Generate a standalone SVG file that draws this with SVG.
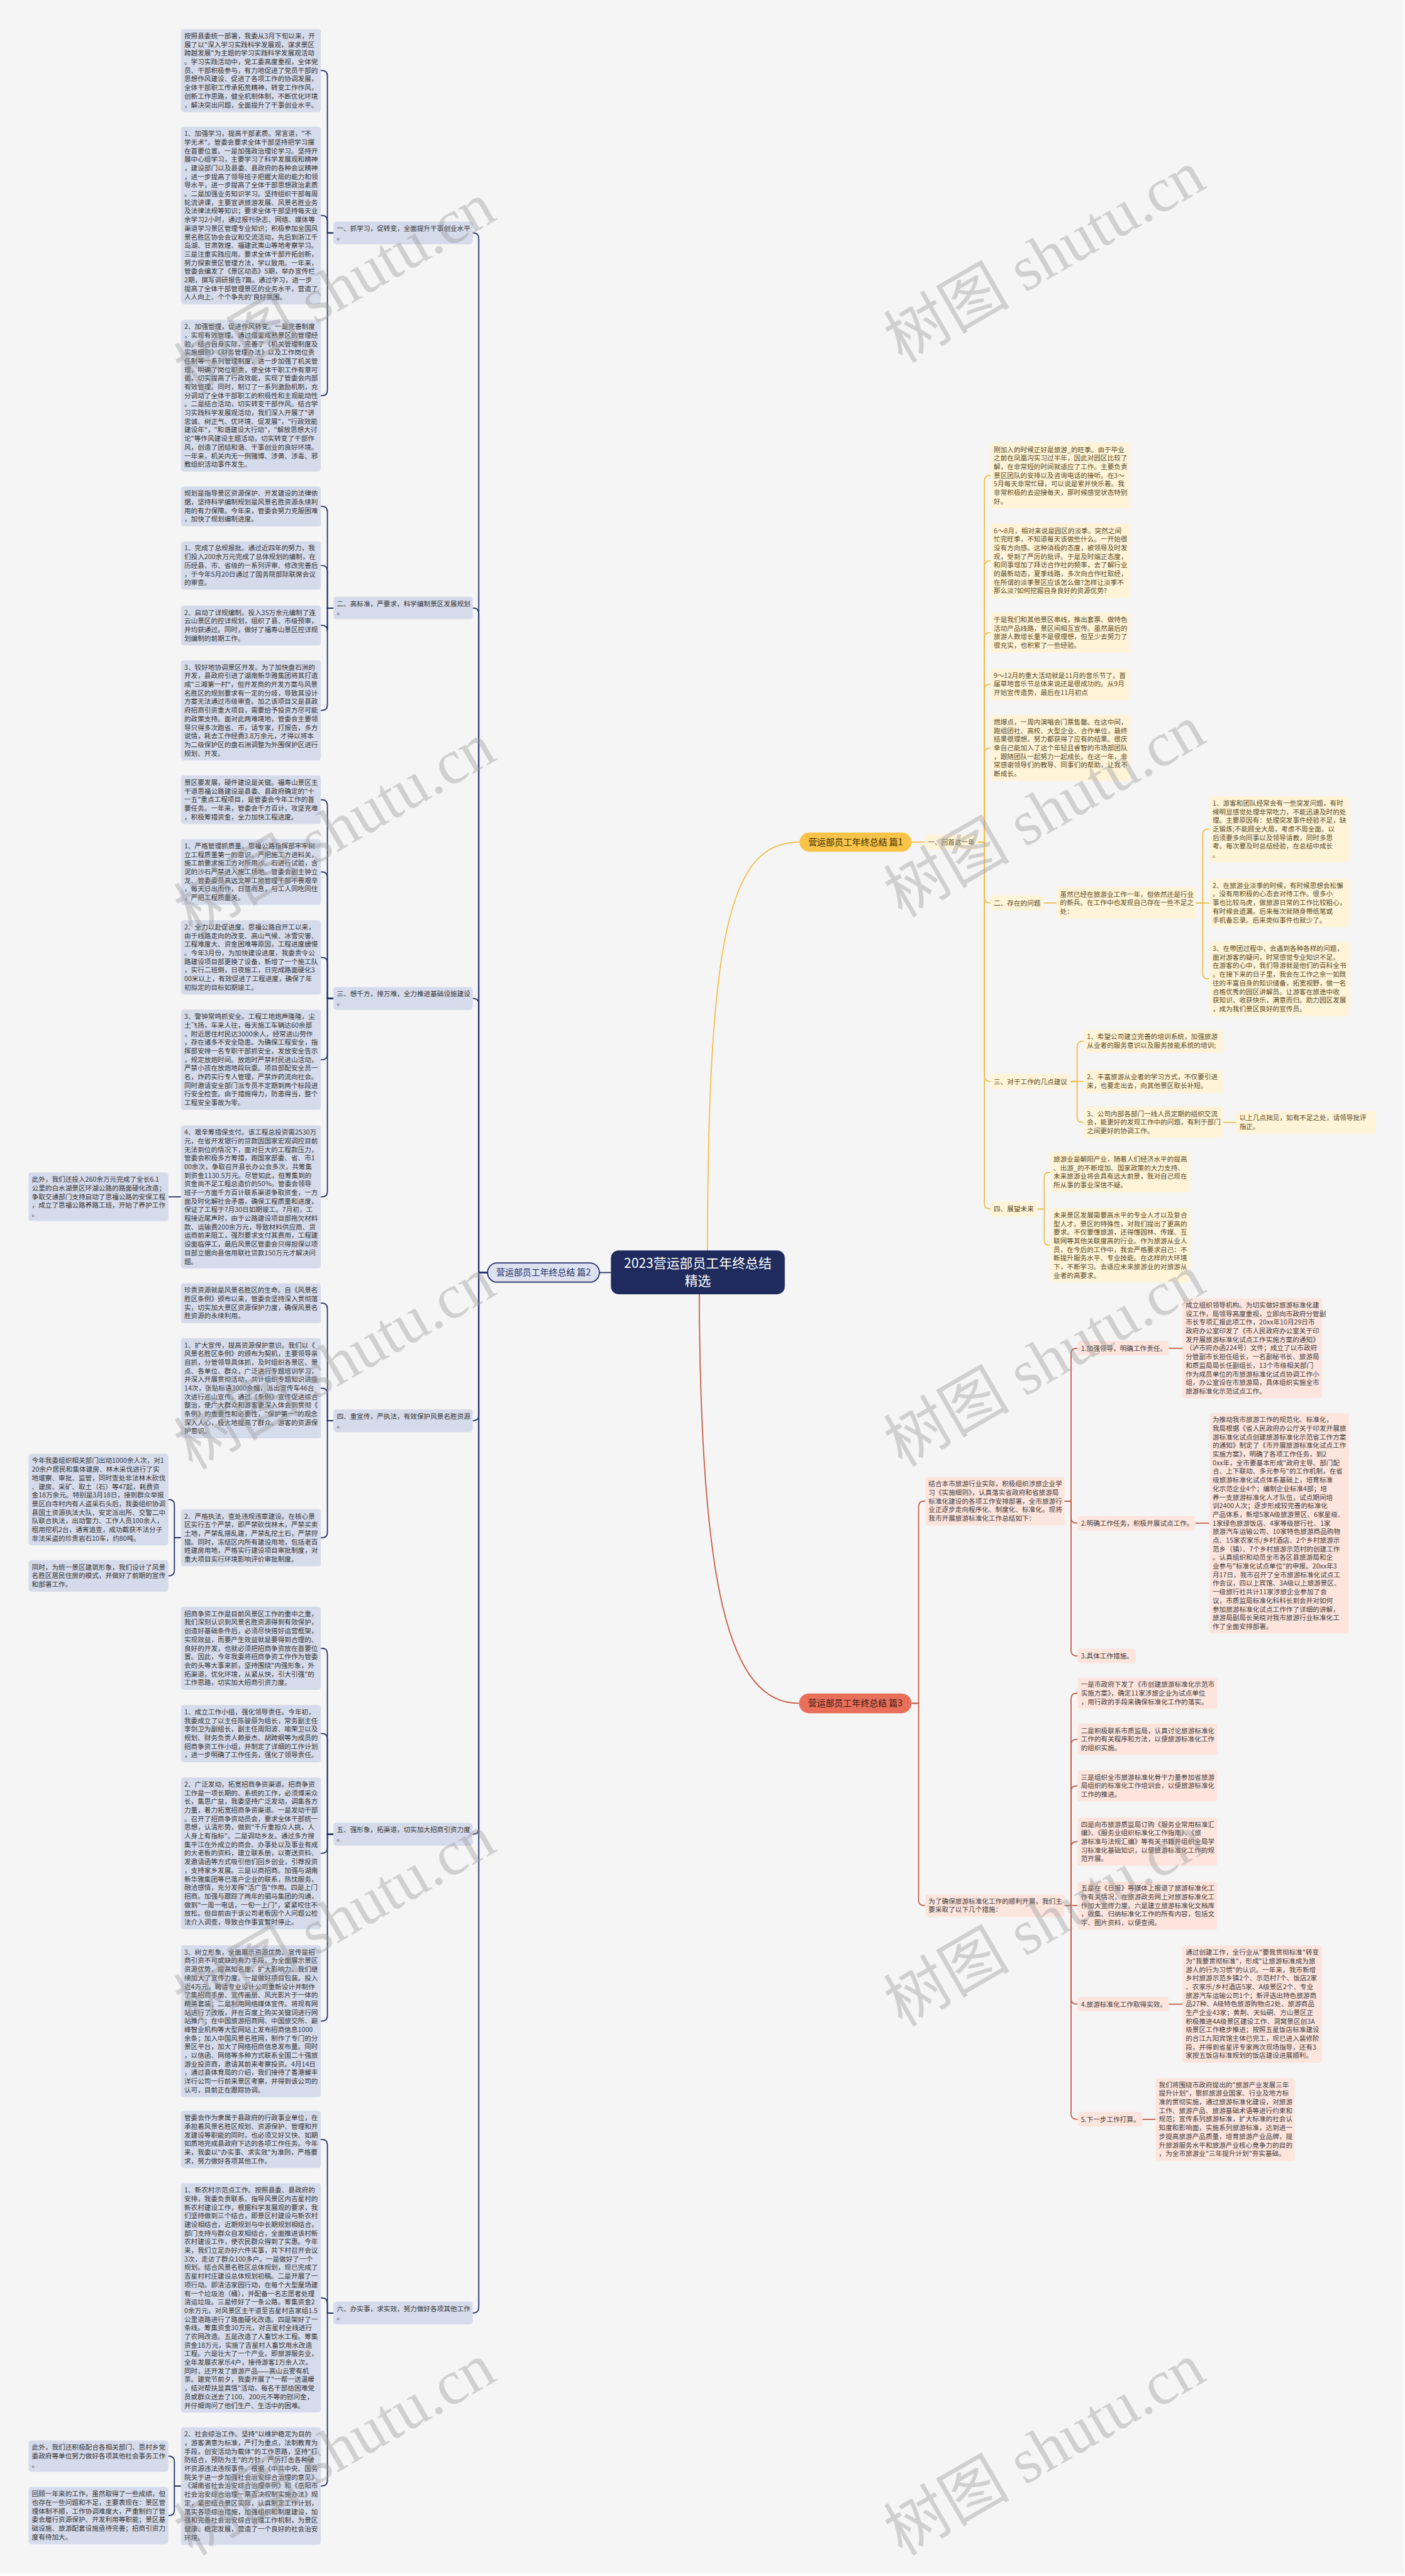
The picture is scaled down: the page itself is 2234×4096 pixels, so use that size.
<svg xmlns="http://www.w3.org/2000/svg" width="2234" height="4096" viewBox="0 0 2234 4096">
<defs>
<style>
.t{font-family:"Noto Sans CJK SC","Noto Sans",sans-serif;font-size:12.2px;fill:#333}
.ty{fill:#5a4a26}
.tr{fill:#3f3a38}
.bn{fill:#D6DBEB}
.by{fill:#FFF4D8}
.br{fill:#FDE5DE}
.cn{fill:none;stroke:#1C2E66;stroke-width:2}
.cy{fill:none;stroke:#F2BD45;stroke-width:2}
.cr{fill:none;stroke:#C7593F;stroke-width:2}
.nt{font-family:"Noto Sans CJK SC","Noto Sans",sans-serif;font-size:16px;text-anchor:middle}
.wm{font-family:"Liberation Serif","Noto Sans CJK SC",serif;font-size:115px;fill:#9a9a9a;opacity:.4}
</style>
</defs>
<g transform="scale(0.872)">
<rect x="0" y="0" width="2560" height="4693" fill="#F5F5F5"/>

<g id="connectors">
<path class="cy" d="M1290 2300C1290 1700 1330 1535.5 1458 1535.5"/>
<path class="cr" d="M1275 2330C1275 2900 1330 3106 1457 3106"/>
<path class="cn" d="M1114 2320.5H1093"/>
<path class="cn" d="M889 2320.5H873V434.7Q873 424.7 863 424.7H862"/>
<path class="cn" d="M889 2320.5H873V1118.7Q873 1108.7 863 1108.7H862"/>
<path class="cn" d="M889 2320.5H873V1830.7Q873 1820.7 863 1820.7H862"/>
<path class="cn" d="M889 2320.5H873V2580.7Q873 2590.7 863 2590.7H862"/>
<path class="cn" d="M889 2320.5H873V3334.7Q873 3344.7 863 3344.7H862"/>
<path class="cn" d="M889 2320.5H873V4207.7Q873 4217.7 863 4217.7H862"/>
<path class="cn" d="M608 424.7H597V138.65Q597 128.65 587 128.65H585"/>
<path class="cn" d="M608 424.7H597V403Q597 393 587 393H585"/>
<path class="cn" d="M608 424.7H597V711.45Q597 721.45 587 721.45H585"/>
<path class="cn" d="M608 1108.7H597V933.4Q597 923.4 587 923.4H585"/>
<path class="cn" d="M608 1108.7H597V1041.25Q597 1031.25 587 1031.25H585"/>
<path class="cn" d="M608 1108.7H597V1150.4Q597 1140.4 587 1140.4H585"/>
<path class="cn" d="M608 1108.7H597V1285.35Q597 1295.35 587 1295.35H585"/>
<path class="cn" d="M608 1820.7H597V1468.25Q597 1458.25 587 1458.25H585"/>
<path class="cn" d="M608 1820.7H597V1599.95Q597 1589.95 587 1589.95H585"/>
<path class="cn" d="M608 1820.7H597V1755.8Q597 1745.8 587 1745.8H585"/>
<path class="cn" d="M608 1820.7H597V1922.35Q597 1932.35 587 1932.35H585"/>
<path class="cn" d="M608 1820.7H597V2172.6Q597 2182.6 587 2182.6H585"/>
<path class="cn" d="M330 2182.4H307"/>
<path class="cn" d="M608 2590.7H597V2386.4Q597 2376.4 587 2376.4H585"/>
<path class="cn" d="M608 2590.7H597V2541.35Q597 2531.35 587 2531.35H585"/>
<path class="cn" d="M608 2590.7H597V2794.1Q597 2804.1 587 2804.1H585"/>
<path class="cn" d="M330 2804.1H318V2744.5Q318 2734.5 308 2734.5H307"/>
<path class="cn" d="M330 2804.1H318V2863.55Q318 2873.55 308 2873.55H307"/>
<path class="cn" d="M608 3344.7H597V3015.65Q597 3005.65 587 3005.65H585"/>
<path class="cn" d="M608 3344.7H597V3171.1Q597 3161.1 587 3161.1H585"/>
<path class="cn" d="M608 3344.7H597V3369.45Q597 3379.45 587 3379.45H585"/>
<path class="cn" d="M608 3344.7H597V3675.45Q597 3685.45 587 3685.45H585"/>
<path class="cn" d="M608 4217.7H597V3911.1Q597 3901.1 587 3901.1H585"/>
<path class="cn" d="M608 4217.7H597V4200.1Q597 4190.1 587 4190.1H585"/>
<path class="cn" d="M608 4217.7H597V4523.05Q597 4533.05 587 4533.05H585"/>
<path class="cn" d="M330 4533.05H318V4488.55Q318 4478.55 308 4478.55H307"/>
<path class="cn" d="M330 4533.05H318V4577.1Q318 4587.1 308 4587.1H307"/>

<path class="cy" d="M1662 1535.5H1686"/>
<path class="cy" d="M1783 1535.5H1795V876.95Q1795 866.95 1805 866.95H1806"/>
<path class="cy" d="M1783 1535.5H1795V1032.8Q1795 1022.8 1805 1022.8H1806"/>
<path class="cy" d="M1783 1535.5H1795V1163.4Q1795 1153.4 1805 1153.4H1806"/>
<path class="cy" d="M1783 1535.5H1795V1257.55Q1795 1247.55 1805 1247.55H1806"/>
<path class="cy" d="M1783 1535.5H1795V1373.95Q1795 1363.95 1805 1363.95H1806"/>
<path class="cy" d="M1783 1535.5H1795V1636.5Q1795 1646.5 1805 1646.5H1806"/>
<path class="cy" d="M1783 1535.5H1795V1962Q1795 1972 1805 1972H1806"/>
<path class="cy" d="M1783 1535.5H1795V2194.5Q1795 2204.5 1805 2204.5H1806"/>
<path class="cy" d="M1903 1646.5H1927"/>
<path class="cy" d="M2181 1646.55H2193V1521.95Q2193 1511.95 2203 1511.95H2205"/>
<path class="cy" d="M2181 1646.55H2205"/>
<path class="cy" d="M2181 1646.55H2193V1774.8Q2193 1784.8 2203 1784.8H2205"/>
<path class="cy" d="M1952 1972H1964V1908.7Q1964 1898.7 1974 1898.7H1976"/>
<path class="cy" d="M1952 1972H1976"/>
<path class="cy" d="M1952 1972H1964V2036.55Q1964 2046.55 1974 2046.55H1976"/>
<path class="cy" d="M2230 2046.55H2254"/>
<path class="cy" d="M1892 2204.5H1904V2147.4Q1904 2137.4 1914 2137.4H1915"/>
<path class="cy" d="M1892 2204.5H1904V2260.8Q1904 2270.8 1914 2270.8H1915"/>

<path class="cr" d="M1662 3106H1675V2747.25Q1675 2737.25 1685 2737.25H1687"/>
<path class="cr" d="M1662 3106H1675V3464.7Q1675 3474.7 1685 3474.7H1687"/>
<path class="cr" d="M1941 2737.25H1953V2468.5Q1953 2458.5 1963 2458.5H1965"/>
<path class="cr" d="M1941 2737.25H1953V2767.5Q1953 2777.5 1963 2777.5H1965"/>
<path class="cr" d="M1941 2737.25H1953V3009.5Q1953 3019.5 1963 3019.5H1965"/>
<path class="cr" d="M2131 2458.5H2156"/>
<path class="cr" d="M2180 2777.5H2205"/>
<path class="cr" d="M1941 3474.7H1953V3097.55Q1953 3087.55 1963 3087.55H1965"/>
<path class="cr" d="M1941 3474.7H1953V3181.55Q1953 3171.55 1963 3171.55H1965"/>
<path class="cr" d="M1941 3474.7H1953V3266.55Q1953 3256.55 1963 3256.55H1965"/>
<path class="cr" d="M1941 3474.7H1953V3368.25Q1953 3358.25 1963 3358.25H1965"/>
<path class="cr" d="M1941 3474.7H1965"/>
<path class="cr" d="M1941 3474.7H1953V3644.5Q1953 3654.5 1963 3654.5H1965"/>
<path class="cr" d="M1941 3474.7H1953V3854.5Q1953 3864.5 1963 3864.5H1965"/>
<path class="cr" d="M2131 3654.5H2156"/>
<path class="cr" d="M2083 3864.5H2107"/>
</g>

<g id="center"><rect x="1114" y="2280" width="317" height="80" rx="14" fill="#1E2B5C"/><text x="1272.5" y="2312.4" font-family="Noto Sans CJK SC, sans-serif" font-size="24" fill="#fff" text-anchor="middle">2023营运部员工年终总结</text><text x="1272.5" y="2344.4" font-family="Noto Sans CJK SC, sans-serif" font-size="24" fill="#fff" text-anchor="middle">精选</text></g>

<g id="p1"><rect x="1458" y="1518" width="204" height="35" rx="17.5" fill="#F8C347"/><text class="nt" x="1560" y="1541.1" fill="#3a2c08">营运部员工年终总结 篇1</text></g>
<g id="p2"><rect x="889" y="2303" width="204" height="35" rx="17.5" fill="#DDE1EF" stroke="#1C2E66" stroke-width="2"/><text class="nt" x="991" y="2326.1" fill="#1C2E66">营运部员工年终总结 篇2</text></g>
<g id="p3"><rect x="1457" y="3088" width="205" height="36" rx="18" fill="#E8705A"/><text class="nt" x="1559.5" y="3111.6" fill="#3b1a12">营运部员工年终总结 篇3</text></g>

<g id="L1"><rect class="bn" x="608" y="404" width="254" height="41.4" rx="5"/><text class="t" x="614" y="421"><tspan x="614">一、抓学习，促转变，全面提升干事创业水平</tspan><tspan x="614" dy="15.7">。</tspan></text></g>
<g id="L2"><rect class="bn" x="608" y="1088" width="254" height="41.4" rx="5"/><text class="t" x="614" y="1105"><tspan x="614">二、高标准，严要求，科学编制景区发展规划</tspan><tspan x="614" dy="15.7">。</tspan></text></g>
<g id="L3"><rect class="bn" x="608" y="1800" width="254" height="41.4" rx="5"/><text class="t" x="614" y="1817"><tspan x="614">三、想千方，排万难，全力推进基础设施建设</tspan><tspan x="614" dy="15.7">。</tspan></text></g>
<g id="L4"><rect class="bn" x="608" y="2570" width="254" height="41.4" rx="5"/><text class="t" x="614" y="2587"><tspan x="614">四、重宣传，严执法，有效保护风景名胜资源</tspan><tspan x="614" dy="15.7">。</tspan></text></g>
<g id="L5"><rect class="bn" x="608" y="3324" width="254" height="41.4" rx="5"/><text class="t" x="614" y="3341"><tspan x="614">五、强形象，拓渠道，切实加大招商引资力度</tspan><tspan x="614" dy="15.7">。</tspan></text></g>
<g id="L6"><rect class="bn" x="608" y="4197" width="254" height="41.4" rx="5"/><text class="t" x="614" y="4214"><tspan x="614">六、办实事，求实效，努力做好各项其他工作</tspan><tspan x="614" dy="15.7">。</tspan></text></g>

<g id="A1"><rect class="bn" x="330" y="53" width="255" height="151.3" rx="5"/><text class="t" x="336" y="70"><tspan x="336">按照县委统一部署，我委从3月下旬以来，开</tspan><tspan x="336" dy="15.7">展了以"深入学习实践科学发展观，谋求景区</tspan><tspan x="336" dy="15.7">跨越发展"为主题的学习实践科学发展观活动</tspan><tspan x="336" dy="15.7">。学习实践活动中，党工委高度重视，全体党</tspan><tspan x="336" dy="15.7">员、干部积极参与，有力地促进了党员干部的</tspan><tspan x="336" dy="15.7">思想作风建设、促进了各项工作的协调发展，</tspan><tspan x="336" dy="15.7">全体干部职工传承拓荒精神，转变工作作风，</tspan><tspan x="336" dy="15.7">创新工作思路，健全机制体制，不断优化环境</tspan><tspan x="336" dy="15.7">，解决突出问题，全面提升了干事创业水平。</tspan></text></g>
<g id="A2"><rect class="bn" x="330" y="231" width="255" height="324" rx="5"/><text class="t" x="336" y="248"><tspan x="336">1、加强学习，提高干部素质。常言道，"不</tspan><tspan x="336" dy="15.7">学无术"。管委会要求全体干部坚持把学习摆</tspan><tspan x="336" dy="15.7">在首要位置。一是加强政治理论学习。坚持开</tspan><tspan x="336" dy="15.7">展中心组学习，主要学习了科学发展观和精神</tspan><tspan x="336" dy="15.7">，建设部门以及县委、县政府的各种会议精神</tspan><tspan x="336" dy="15.7">，进一步提高了领导班子把握大局的能力和领</tspan><tspan x="336" dy="15.7">导水平，进一步提高了全体干部思想政治素质</tspan><tspan x="336" dy="15.7">。二是加强业务知识学习。坚持组织干部每周</tspan><tspan x="336" dy="15.7">轮流讲课，主要宣讲旅游发展、风景名胜业务</tspan><tspan x="336" dy="15.7">及法律法规等知识；要求全体干部坚持每天业</tspan><tspan x="336" dy="15.7">余学习2小时，通过报刊杂志、网络、媒体等</tspan><tspan x="336" dy="15.7">渠道学习景区管理专业知识；积极参加全国风</tspan><tspan x="336" dy="15.7">景名胜区协会会议和交流活动，先后到浙江千</tspan><tspan x="336" dy="15.7">岛湖、甘肃敦煌、福建武夷山等地考察学习。</tspan><tspan x="336" dy="15.7">三是注重实践应用。要求全体干部开拓创新，</tspan><tspan x="336" dy="15.7">努力探索景区管理方法，学以致用。一年来，</tspan><tspan x="336" dy="15.7">管委会编发了《景区动态》5期，举办宣传栏</tspan><tspan x="336" dy="15.7">2期，撰写调研报告7篇。通过学习，进一步</tspan><tspan x="336" dy="15.7">提高了全体干部管理景区的业务水平，营造了</tspan><tspan x="336" dy="15.7">人人向上、个个争先的'良好氛围。</tspan></text></g>
<g id="A3"><rect class="bn" x="330" y="583" width="255" height="276.9" rx="5"/><text class="t" x="336" y="600"><tspan x="336">2、加强管理，促进作风转变。一是完善制度</tspan><tspan x="336" dy="15.7">，实现有效管理。通过借鉴成熟景区的管理经</tspan><tspan x="336" dy="15.7">验，结合自身实际，完善了《机关管理制度及</tspan><tspan x="336" dy="15.7">实施细则》《财务管理办法》以及工作岗位责</tspan><tspan x="336" dy="15.7">任制等一系列管理制度，进一步加强了机关管</tspan><tspan x="336" dy="15.7">理，明确了岗位职责，使全体干职工作有章可</tspan><tspan x="336" dy="15.7">循，切实提高了行政效能，实现了管委会内部</tspan><tspan x="336" dy="15.7">有效管理。同时，制订了一系列激励机制，充</tspan><tspan x="336" dy="15.7">分调动了全体干部职工的积极性和主观能动性</tspan><tspan x="336" dy="15.7">。二是结合活动，切实转变干部作风。结合学</tspan><tspan x="336" dy="15.7">习实践科学发展观活动，我们深入开展了"讲</tspan><tspan x="336" dy="15.7">忠诚、树正气、优环境、促发展"，"行政效能</tspan><tspan x="336" dy="15.7">建设年"，"和谐建设大行动"，"解放思想大讨</tspan><tspan x="336" dy="15.7">论"等作风建设主题活动，切实转变了干部作</tspan><tspan x="336" dy="15.7">风，创造了团结和谐、干事创业的良好环境。</tspan><tspan x="336" dy="15.7">一年来，机关内无一例赌博、涉黄、涉毒、邪</tspan><tspan x="336" dy="15.7">教组织活动事件发生。</tspan></text></g>

<g id="B1"><rect class="bn" x="330" y="887" width="255" height="72.8" rx="5"/><text class="t" x="336" y="904"><tspan x="336">规划是指导景区资源保护、开发建设的法律依</tspan><tspan x="336" dy="15.7">据，坚持科学编制规划是风景名胜资源永续利</tspan><tspan x="336" dy="15.7">用的有力保障。今年来，管委会努力克服困难</tspan><tspan x="336" dy="15.7">，加快了规划编制进度。</tspan></text></g>
<g id="B2"><rect class="bn" x="330" y="987" width="255" height="88.5" rx="5"/><text class="t" x="336" y="1004"><tspan x="336">1、完成了总规报批。通过近四年的努力，我</tspan><tspan x="336" dy="15.7">们投入200余万元完成了总体规划的编制，在</tspan><tspan x="336" dy="15.7">历经县、市、省级的一系列评审、修改完善后</tspan><tspan x="336" dy="15.7">，于今年5月20日通过了国务院部际联席会议</tspan><tspan x="336" dy="15.7">的审查。</tspan></text></g>
<g id="B3"><rect class="bn" x="330" y="1104" width="255" height="72.8" rx="5"/><text class="t" x="336" y="1121"><tspan x="336">2、启动了详规编制。投入35万余元编制了连</tspan><tspan x="336" dy="15.7">云山景区的控详规划，组织了县、市级预审，</tspan><tspan x="336" dy="15.7">并均获通过。同时，做好了福寿山景区控详规</tspan><tspan x="336" dy="15.7">划编制的前期工作。</tspan></text></g>
<g id="B4"><rect class="bn" x="330" y="1204" width="255" height="182.7" rx="5"/><text class="t" x="336" y="1221"><tspan x="336">3、较好地协调景区开发。为了加快盘石洲的</tspan><tspan x="336" dy="15.7">开发，县政府引进了湖南新华雅集团将其打造</tspan><tspan x="336" dy="15.7">成"三湘第一村"，但开发商的开发方案与风景</tspan><tspan x="336" dy="15.7">名胜区的规划要求有一定的分歧，导致其设计</tspan><tspan x="336" dy="15.7">方案无法通过市级审查。加之该项目又是县政</tspan><tspan x="336" dy="15.7">府招商引资重大项目，需要给予投资方尽可能</tspan><tspan x="336" dy="15.7">的政策支持。面对此两难境地，管委会主要领</tspan><tspan x="336" dy="15.7">导只得多次跑省、市，请专家，打报告，多方</tspan><tspan x="336" dy="15.7">说情，耗去工作经费3.8万余元，才得以将本</tspan><tspan x="336" dy="15.7">为二级保护区的盘石洲调整为外围保护区进行</tspan><tspan x="336" dy="15.7">规划、开发。</tspan></text></g>

<g id="C1"><rect class="bn" x="330" y="1414" width="255" height="88.5" rx="5"/><text class="t" x="336" y="1431"><tspan x="336">景区要发展，硬件建设是关键。福寿山景区主</tspan><tspan x="336" dy="15.7">干道思福公路建设是县委、县政府确定的"十</tspan><tspan x="336" dy="15.7">一五"重点工程项目，是管委会今年工作的首</tspan><tspan x="336" dy="15.7">要任务。一年来，管委会千方百计，攻坚克难</tspan><tspan x="336" dy="15.7">，积极筹措资金，全力加快工程进度。</tspan></text></g>
<g id="C2"><rect class="bn" x="330" y="1530" width="255" height="119.9" rx="5"/><text class="t" x="336" y="1547"><tspan x="336">1、严格管理抓质量。思福公路指挥部牢牢树</tspan><tspan x="336" dy="15.7">立工程质量第一的意识，严把施工方进料关，</tspan><tspan x="336" dy="15.7">施工前要求施工方对所用沙、石进行试验，含</tspan><tspan x="336" dy="15.7">泥的沙石严禁进入施工场地。管委会副主钟立</tspan><tspan x="336" dy="15.7">龙、管委委员高远文等工地管理干部不畏艰辛</tspan><tspan x="336" dy="15.7">，每天日出而作，日落而息，与工人同吃同住</tspan><tspan x="336" dy="15.7">，严把工程质量关。</tspan></text></g>
<g id="C3"><rect class="bn" x="330" y="1678" width="255" height="135.6" rx="5"/><text class="t" x="336" y="1695"><tspan x="336">2、全力以赴促进度。思福公路自开工以来，</tspan><tspan x="336" dy="15.7">由于线路走向的改变、高山气候、冰雪灾害、</tspan><tspan x="336" dy="15.7">工程难度大、资金困难等原因，工程进度缓慢</tspan><tspan x="336" dy="15.7">。今年3月份，为加快建设进度，我委责令公</tspan><tspan x="336" dy="15.7">路建设项目部更换了设备，新增了一个施工队</tspan><tspan x="336" dy="15.7">，实行二班倒，日夜施工，日完成路面硬化3</tspan><tspan x="336" dy="15.7">00米以上，有效促进了工程进度，确保了年</tspan><tspan x="336" dy="15.7">初拟定的目标如期竣工。</tspan></text></g>
<g id="C4"><rect class="bn" x="330" y="1841" width="255" height="182.7" rx="5"/><text class="t" x="336" y="1858"><tspan x="336">3、警钟常鸣抓安全。工程工地炮声隆隆，尘</tspan><tspan x="336" dy="15.7">土飞扬，车来人往，每天施工车辆达60余部</tspan><tspan x="336" dy="15.7">，附近居住村民达3000余人，经常进山劳作</tspan><tspan x="336" dy="15.7">，存在诸多不安全隐患。为确保工程安全，指</tspan><tspan x="336" dy="15.7">挥部安排一名专职干部抓安全，发放安全告示</tspan><tspan x="336" dy="15.7">，规定放炮时间。放炮时严禁村民进山活动，</tspan><tspan x="336" dy="15.7">严禁小孩在放炮地段玩耍。项目部配安全员一</tspan><tspan x="336" dy="15.7">名，炸药实行专人管理，严禁炸药流向社会。</tspan><tspan x="336" dy="15.7">同时邀请安全部门派专员不定期到两个标段进</tspan><tspan x="336" dy="15.7">行安全检查。由于措施得力，防患得当，整个</tspan><tspan x="336" dy="15.7">工程安全事故为零。</tspan></text></g>
<g id="C5"><rect class="bn" x="330" y="2052" width="255" height="261.2" rx="5"/><text class="t" x="336" y="2069"><tspan x="336">4、艰辛筹措保支付。该工程总投资需2530万</tspan><tspan x="336" dy="15.7">元，在省开发银行的贷款因国家宏观调控目前</tspan><tspan x="336" dy="15.7">无法到位的情况下，面对巨大的工程款压力，</tspan><tspan x="336" dy="15.7">管委会积极多方筹措，跑国家部委、省、市1</tspan><tspan x="336" dy="15.7">00余次，争取召开县长办公会多次，共筹集</tspan><tspan x="336" dy="15.7">到资金1130.5万元。尽管如此，但筹集到的</tspan><tspan x="336" dy="15.7">资金尚不足工程总造价的50%。管委会领导</tspan><tspan x="336" dy="15.7">班子一方面千方百计联系渠道争取资金，一方</tspan><tspan x="336" dy="15.7">面及时化解社会矛盾，确保工程质量和进度，</tspan><tspan x="336" dy="15.7">保证了工程于7月30日如期竣工。7月初，工</tspan><tspan x="336" dy="15.7">程接近尾声时，由于公路建设项目部拖欠材料</tspan><tspan x="336" dy="15.7">款、运输费200余万元，导致材料供应商、货</tspan><tspan x="336" dy="15.7">运商前来阻工，强烈要求支付其费用，工程建</tspan><tspan x="336" dy="15.7">设面临停工，最后风景区管委会只得担保以项</tspan><tspan x="336" dy="15.7">目部立据向县信用联社贷款150万元才解决问</tspan><tspan x="336" dy="15.7">题。</tspan></text></g>
<g id="C5a"><rect class="bn" x="52" y="2138" width="255" height="88.5" rx="5"/><text class="t" x="58" y="2155"><tspan x="58">此外，我们还投入260余万元完成了全长6.1</tspan><tspan x="58" dy="15.7">公里的白水湖景区环湖公路的路面硬化改造；</tspan><tspan x="58" dy="15.7">争取交通部门支持启动了思福公路的安保工程</tspan><tspan x="58" dy="15.7">，成立了思福公路养路工班，开始了养护工作</tspan><tspan x="58" dy="15.7">。</tspan></text></g>

<g id="D1"><rect class="bn" x="330" y="2340" width="255" height="72.8" rx="5"/><text class="t" x="336" y="2357"><tspan x="336">珍贵资源就是风景名胜区的生命。自《风景名</tspan><tspan x="336" dy="15.7">胜区条例》颁布以来，管委会坚持深入贯彻落</tspan><tspan x="336" dy="15.7">实，切实加大景区资源保护力度，确保风景名</tspan><tspan x="336" dy="15.7">胜资源的永续利用。</tspan></text></g>
<g id="D2"><rect class="bn" x="330" y="2440" width="255" height="182.7" rx="5"/><text class="t" x="336" y="2457"><tspan x="336">1、扩大宣传，提高资源保护意识。我们以《</tspan><tspan x="336" dy="15.7">风景名胜区条例》的颁布为契机，主要领导亲</tspan><tspan x="336" dy="15.7">自抓，分管领导具体抓，及时组织各景区、景</tspan><tspan x="336" dy="15.7">点、各单位、群众，广泛进行专题培训学习，</tspan><tspan x="336" dy="15.7">并深入开展贯彻活动，共计组织专题知识讲座</tspan><tspan x="336" dy="15.7">14次，张贴标语3000余幅，派出宣传车46台</tspan><tspan x="336" dy="15.7">次进行巡山宣传。通过《条例》宣传促进综合</tspan><tspan x="336" dy="15.7">整治，使广大群众和游客更深入体会到贯彻《</tspan><tspan x="336" dy="15.7">条例》的重要性和必要性，"保护第一"的观念</tspan><tspan x="336" dy="15.7">深入人心，极大地提高了群众、游客的资源保</tspan><tspan x="336" dy="15.7">护意识。</tspan></text></g>
<g id="D3"><rect class="bn" x="330" y="2752" width="255" height="104.2" rx="5"/><text class="t" x="336" y="2769"><tspan x="336">2、严格执法，查处违规违章建设。在核心景</tspan><tspan x="336" dy="15.7">区实行五个严禁，即严禁砍伐林木，严禁买卖</tspan><tspan x="336" dy="15.7">土地，严禁乱搭乱建，严禁乱挖土石，严禁狩</tspan><tspan x="336" dy="15.7">猎。同时，冻结区内所有建设用地，包括老百</tspan><tspan x="336" dy="15.7">姓建房用地，严格实行建设项目审批制度，对</tspan><tspan x="336" dy="15.7">重大项目实行环境影响评价审批制度。</tspan></text></g>
<g id="D3a"><rect class="bn" x="52" y="2651" width="255" height="167" rx="5"/><text class="t" x="58" y="2668"><tspan x="58">今年我委组织相关部门出动1000余人次，对1</tspan><tspan x="58" dy="15.7">20余户居民和集体建房、林木采伐进行了实</tspan><tspan x="58" dy="15.7">地堪察、审批、监管，同时查处非法林木砍伐</tspan><tspan x="58" dy="15.7">、建房、采矿、取土（石）等47起，耗费资</tspan><tspan x="58" dy="15.7">金18万余元。特别是3月18日，接到群众举报</tspan><tspan x="58" dy="15.7">景区白寺村内有人盗采石头后，我委组织协调</tspan><tspan x="58" dy="15.7">县国土资源执法大队、安定派出所、交警二中</tspan><tspan x="58" dy="15.7">队联合执法，出动警力、工作人员100余人，</tspan><tspan x="58" dy="15.7">租用挖机2台，通宵追查，成功截获不法分子</tspan><tspan x="58" dy="15.7">非法采盗的珍贵岩石10车，约80吨。</tspan></text></g>
<g id="D3b"><rect class="bn" x="52" y="2845" width="255" height="57.1" rx="5"/><text class="t" x="58" y="2862"><tspan x="58">同时，为统一景区建筑形象，我们设计了风景</tspan><tspan x="58" dy="15.7">名胜区居民住房的模式，并做好了前期的宣传</tspan><tspan x="58" dy="15.7">和部署工作。</tspan></text></g>

<g id="E1"><rect class="bn" x="330" y="2930" width="255" height="151.3" rx="5"/><text class="t" x="336" y="2947"><tspan x="336">招商争资工作是目前风景区工作的重中之重，</tspan><tspan x="336" dy="15.7">我们深刻认识到风景名胜资源得到有效保护，</tspan><tspan x="336" dy="15.7">创造好基础条件后，必须尽快搭好运营框架，</tspan><tspan x="336" dy="15.7">实现效益，而要产生效益就是要得到合理的、</tspan><tspan x="336" dy="15.7">良好的开发，也就必须把招商争资放在首要位</tspan><tspan x="336" dy="15.7">置。因此，今年我委将招商争资工作作为管委</tspan><tspan x="336" dy="15.7">会的头等大事来抓，坚持围绕"内强形象，外</tspan><tspan x="336" dy="15.7">拓渠道，优化环境，从紧从快，引大引强"的</tspan><tspan x="336" dy="15.7">工作思路，切实加大招商引资力度。</tspan></text></g>
<g id="E2"><rect class="bn" x="330" y="3109" width="255" height="104.2" rx="5"/><text class="t" x="336" y="3126"><tspan x="336">1、成立工作小组，强化领导责任。今年初，</tspan><tspan x="336" dy="15.7">我委成立了以主任陈骏原为组长，常务副主任</tspan><tspan x="336" dy="15.7">李剑卫为副组长，副主任周阳波、喻荣卫以及</tspan><tspan x="336" dy="15.7">规划、财务负责人赖豪杰、胡跨纲等为成员的</tspan><tspan x="336" dy="15.7">招商争资工作小组，并制定了详细的工作计划</tspan><tspan x="336" dy="15.7">，进一步明确了工作任务，强化了领导责任。</tspan></text></g>
<g id="E3"><rect class="bn" x="330" y="3241" width="255" height="276.9" rx="5"/><text class="t" x="336" y="3258"><tspan x="336">2、广泛发动，拓宽招商争资渠道。招商争资</tspan><tspan x="336" dy="15.7">工作是一项长期的、系统的工作，必须博采众</tspan><tspan x="336" dy="15.7">长，集思广益，我委坚持广泛发动，调集各方</tspan><tspan x="336" dy="15.7">力量，着力拓宽招商争资渠道。一是发动干部</tspan><tspan x="336" dy="15.7">。召开了招商争资动员会，要求全体干部统一</tspan><tspan x="336" dy="15.7">思想，认清形势，做到"千斤重担众人挑，人</tspan><tspan x="336" dy="15.7">人身上有指标"。二是调动乡友。通过多方搜</tspan><tspan x="336" dy="15.7">集平江在外成立的商会、办事处以及事业有成</tspan><tspan x="336" dy="15.7">的大老板的资料，建立联系册，以寄送资料、</tspan><tspan x="336" dy="15.7">发邀请函等方式吸引他们回乡创业，引荐投资</tspan><tspan x="336" dy="15.7">，支持家乡发展。三是以商招商。加强与湖南</tspan><tspan x="336" dy="15.7">新华雅集团等已落户企业的联系，热忱服务，</tspan><tspan x="336" dy="15.7">融洽感情，充分发挥"活广告"作用。四是上门</tspan><tspan x="336" dy="15.7">招商。加强与跟踪了两年的驷马集团的沟通，</tspan><tspan x="336" dy="15.7">做到"一周一电话，一旬一上门"，紧紧咬住不</tspan><tspan x="336" dy="15.7">放松。但目前由于该公司老板因个人问题公检</tspan><tspan x="336" dy="15.7">法介入调查，导致合作事宜暂时停止。</tspan></text></g>
<g id="E4"><rect class="bn" x="330" y="3547" width="255" height="276.9" rx="5"/><text class="t" x="336" y="3564"><tspan x="336">3、树立形象，全面展示资源优势。宣传是招</tspan><tspan x="336" dy="15.7">商引资不可或缺的有力手段。为全面展示景区</tspan><tspan x="336" dy="15.7">资源优势，提高知名度，扩大影响力，我们继</tspan><tspan x="336" dy="15.7">续加大了宣传力度。一是做好项目包装。投入</tspan><tspan x="336" dy="15.7">近4万元，聘请专业设计公司重新设计并制作</tspan><tspan x="336" dy="15.7">了集招商手册、宣传画册、风光影片于一体的</tspan><tspan x="336" dy="15.7">精美套装；二是利用网络媒体宣传。将现有网</tspan><tspan x="336" dy="15.7">站进行了改版，并在百度上购买关键词进行网</tspan><tspan x="336" dy="15.7">站推广；在中国旅游招商网、中国旅交所、巅</tspan><tspan x="336" dy="15.7">峰智业机构等大型网站上发布招商信息1000</tspan><tspan x="336" dy="15.7">余条；加入中国风景名胜网，制作了专门的分</tspan><tspan x="336" dy="15.7">景区平台，加大了网络招商信息发布量。同时</tspan><tspan x="336" dy="15.7">，以信函、网络等多种方式联系全国二十强旅</tspan><tspan x="336" dy="15.7">游业投资商，邀请其前来考察投资。4月14日</tspan><tspan x="336" dy="15.7">，通过县体育局的介绍，我们接待了香港耀丰</tspan><tspan x="336" dy="15.7">洋行公司一行前来景区考察，并得到该公司的</tspan><tspan x="336" dy="15.7">认可，目前正在跟踪协调。</tspan></text></g>

<g id="F1"><rect class="bn" x="330" y="3849" width="255" height="104.2" rx="5"/><text class="t" x="336" y="3866"><tspan x="336">管委会作为隶属于县政府的行政事业单位，在</tspan><tspan x="336" dy="15.7">承担着风景名胜区规划、资源保护、管理和开</tspan><tspan x="336" dy="15.7">发建设等职能的同时，也必须又好又快、如期</tspan><tspan x="336" dy="15.7">如质地完成县政府下达的各项工作任务。今年</tspan><tspan x="336" dy="15.7">来，我委以"办实事、求实效"为准则，严格要</tspan><tspan x="336" dy="15.7">求，努力做好各项其他工作。</tspan></text></g>
<g id="F2"><rect class="bn" x="330" y="3981" width="255" height="418.2" rx="5"/><text class="t" x="336" y="3998"><tspan x="336">1、新农村示范点工作。按照县委、县政府的</tspan><tspan x="336" dy="15.7">安排，我委负责联系、指导风景区内吉星村的</tspan><tspan x="336" dy="15.7">新农村建设工作，根据科学发展观的要求，我</tspan><tspan x="336" dy="15.7">们坚持做到三个结合，即景区村建设与新农村</tspan><tspan x="336" dy="15.7">建设相结合，近期规划与中长期规划相结合，</tspan><tspan x="336" dy="15.7">部门支持与群众自发相结合，全面推进该村新</tspan><tspan x="336" dy="15.7">农村建设工作，使农民群众得到了实惠。今年</tspan><tspan x="336" dy="15.7">来，我们立足办好六件实事，共下村召开会议</tspan><tspan x="336" dy="15.7">3次，走访了群众100多户。一是做好了一个</tspan><tspan x="336" dy="15.7">规划。结合风景名胜区总体规划，现已完成了</tspan><tspan x="336" dy="15.7">吉星村村庄建设总体规划初稿。二是开展了一</tspan><tspan x="336" dy="15.7">项行动。即清洁家园行动，在每个大型屋场建</tspan><tspan x="336" dy="15.7">有一个垃圾池（桶），并配备一名志愿者处理</tspan><tspan x="336" dy="15.7">清运垃圾。三是修好了一条公路。筹集资金2</tspan><tspan x="336" dy="15.7">0余万元，对风景区主干道至吉星村吉家组1.5</tspan><tspan x="336" dy="15.7">公里道路进行了路面硬化改造。四是架好了一</tspan><tspan x="336" dy="15.7">条线。筹集资金30万元，对吉星村全线进行</tspan><tspan x="336" dy="15.7">了农网改造。五是改造了人畜饮水工程。筹集</tspan><tspan x="336" dy="15.7">资金18万元，实施了吉星村人畜饮用水改造</tspan><tspan x="336" dy="15.7">工程。六是壮大了一个产业。即旅游服务业，</tspan><tspan x="336" dy="15.7">全年发展农家乐4户，接待游客1万余人次。</tspan><tspan x="336" dy="15.7">同时，还开发了旅游产品——高山云雾有机</tspan><tspan x="336" dy="15.7">茶。建党节前夕，我委开展了"一帮一送温暖</tspan><tspan x="336" dy="15.7">，结对帮扶显真情"活动，每名干部给困难党</tspan><tspan x="336" dy="15.7">员或群众送去了100、200元不等的慰问金，</tspan><tspan x="336" dy="15.7">并仔细询问了他们生产、生活中的困难。</tspan></text></g>
<g id="F3"><rect class="bn" x="330" y="4426" width="255" height="214.1" rx="5"/><text class="t" x="336" y="4443"><tspan x="336">2、社会综治工作。坚持"以维护稳定为目的</tspan><tspan x="336" dy="15.7">，游客满意为标准，严打为重点，法制教育为</tspan><tspan x="336" dy="15.7">手段，创安活动为载体"的工作思路，坚持"打</tspan><tspan x="336" dy="15.7">防结合，预防为主"的方针，严厉打击各种破</tspan><tspan x="336" dy="15.7">坏资源违法违规事件，根据《中共中央、国务</tspan><tspan x="336" dy="15.7">院关于进一步加强社会治安综合治理的意见》</tspan><tspan x="336" dy="15.7">《湖南省社会治安综合治理条例》和《岳阳市</tspan><tspan x="336" dy="15.7">社会治安综合治理一票否决权制实施办法》规</tspan><tspan x="336" dy="15.7">定，紧密结合景区实际，认真制定工作计划，</tspan><tspan x="336" dy="15.7">落实各项综治措施，加强组织和制度建设，加</tspan><tspan x="336" dy="15.7">强和完善社会治安综合治理工作机制，为景区</tspan><tspan x="336" dy="15.7">健康、稳定发展，营造了一个良好的社会治安</tspan><tspan x="336" dy="15.7">环境。</tspan></text></g>
<g id="F3a"><rect class="bn" x="52" y="4450" width="255" height="57.1" rx="5"/><text class="t" x="58" y="4467"><tspan x="58">此外，我们还积极配合各相关部门、思村乡党</tspan><tspan x="58" dy="15.7">委政府等单位努力做好各项其他社会事务工作</tspan><tspan x="58" dy="15.7">。</tspan></text></g>
<g id="F3b"><rect class="bn" x="52" y="4535" width="255" height="104.2" rx="5"/><text class="t" x="58" y="4552"><tspan x="58">回顾一年来的工作，虽然取得了一些成绩，但</tspan><tspan x="58" dy="15.7">也存在一些问题和不足，主要表现在：景区管</tspan><tspan x="58" dy="15.7">理体制不顺，工作协调难度大，严重制约了管</tspan><tspan x="58" dy="15.7">委会履行资源保护、开发利用等职能；景区基</tspan><tspan x="58" dy="15.7">础设施、旅游配套设施亟待完善；招商引资力</tspan><tspan x="58" dy="15.7">度有待加大。</tspan></text></g>

<g id="Y0"><rect class="by" x="1686" y="1522" width="97" height="27" rx="5"/><text class="t ty" x="1692" y="1540">一、回首这一年</text></g>
<g id="R1"><rect class="by" x="1806" y="807" width="254" height="119.9" rx="5"/><text class="t ty" x="1812" y="824"><tspan x="1812">刚加入的时候正好是旅游_的旺季。由于毕业</tspan><tspan x="1812" dy="15.7">之前在凤凰沟实习过半年，因此对园区比较了</tspan><tspan x="1812" dy="15.7">解，在非常短的时间就适应了工作。主要负责</tspan><tspan x="1812" dy="15.7">景区团队的安排以及咨询电话的接听。在3～</tspan><tspan x="1812" dy="15.7">5月每天非常忙碌，可以说是累并快乐着。我</tspan><tspan x="1812" dy="15.7">非常积极的去迎接每天，那时候感觉状态特别</tspan><tspan x="1812" dy="15.7">好。</tspan></text></g>
<g id="R2"><rect class="by" x="1806" y="955" width="254" height="135.6" rx="5"/><text class="t ty" x="1812" y="972"><tspan x="1812">6～8月，相对来说是园区的淡季。突然之间</tspan><tspan x="1812" dy="15.7">忙完旺季，不知道每天该做些什么。一开始很</tspan><tspan x="1812" dy="15.7">没有方向感。这种消极的态度，被领导及时发</tspan><tspan x="1812" dy="15.7">现，受到了严厉的批评。于是及时端正态度，</tspan><tspan x="1812" dy="15.7">和同事增加了拜访合作社的频率，去了解行业</tspan><tspan x="1812" dy="15.7">的最新动态，夏季线路，多次向合作社取经，</tspan><tspan x="1812" dy="15.7">在所谓的淡季景区应该怎么做?怎样让淡季不</tspan><tspan x="1812" dy="15.7">那么淡?如何挖掘自身良好的资源优势?</tspan></text></g>
<g id="R3"><rect class="by" x="1806" y="1117" width="254" height="72.8" rx="5"/><text class="t ty" x="1812" y="1134"><tspan x="1812">于是我们和其他景区串线，推出套票、做特色</tspan><tspan x="1812" dy="15.7">活动产品线路，景区间相互宣传。虽然最后的</tspan><tspan x="1812" dy="15.7">旅游人数增长量不是很理想，但至少去努力了</tspan><tspan x="1812" dy="15.7">很充实，也积累了一些经验。</tspan></text></g>
<g id="R4"><rect class="by" x="1806" y="1219" width="254" height="57.1" rx="5"/><text class="t ty" x="1812" y="1236"><tspan x="1812">9～12月的重大活动就是11月的音乐节了。首</tspan><tspan x="1812" dy="15.7">届草地音乐节总体来说还是很成功的。从9月</tspan><tspan x="1812" dy="15.7">开始宣传造势，最后在11月初点</tspan></text></g>
<g id="R5"><rect class="by" x="1806" y="1304" width="254" height="119.9" rx="5"/><text class="t ty" x="1812" y="1321"><tspan x="1812">燃爆点，一周内演唱会门票售罄。在这中间，</tspan><tspan x="1812" dy="15.7">跑组团社、高校、大型企业、合作单位，最终</tspan><tspan x="1812" dy="15.7">结果很理想。努力都获得了应有的结果。很庆</tspan><tspan x="1812" dy="15.7">幸自己能加入了这个年轻且睿智的市场部团队</tspan><tspan x="1812" dy="15.7">，跟随团队一起努力一起成长。在这一年，非</tspan><tspan x="1812" dy="15.7">常感谢领导们的教导、同事们的帮助，让我不</tspan><tspan x="1812" dy="15.7">断成长。</tspan></text></g>
<g id="Y2"><rect class="by" x="1806" y="1633" width="97" height="27" rx="5"/><text class="t ty" x="1812" y="1651">二、存在的问题</text></g>
<g id="Q"><rect class="by" x="1927" y="1618" width="254" height="57.1" rx="5"/><text class="t ty" x="1933" y="1635"><tspan x="1933">虽然已经在旅游业工作一年，但依然还是行业</tspan><tspan x="1933" dy="15.7">的新兵。在工作中也发现自己存在一些不足之</tspan><tspan x="1933" dy="15.7">处：</tspan></text></g>
<g id="Q1"><rect class="by" x="2205" y="1452" width="255" height="119.9" rx="5"/><text class="t ty" x="2211" y="1469"><tspan x="2211">1、游客和团队经常会有一些突发问题，有时</tspan><tspan x="2211" dy="15.7">候明显感觉处理非常吃力，不能迅速及时的处</tspan><tspan x="2211" dy="15.7">理。主要原因有：处理突发事件经验不足，缺</tspan><tspan x="2211" dy="15.7">乏锻炼;不能顾全大局，考虑不周全面。以</tspan><tspan x="2211" dy="15.7">后须要多向同事以及领导请教，同时多思</tspan><tspan x="2211" dy="15.7">考。每次要及时总结经验，在总结中成长</tspan><tspan x="2211" dy="15.7">。</tspan></text></g>
<g id="Q2"><rect class="by" x="2205" y="1602" width="255" height="88.5" rx="5"/><text class="t ty" x="2211" y="1619"><tspan x="2211">2、在旅游业淡季的时候，有时候思想会松懈</tspan><tspan x="2211" dy="15.7">。没有用积极的心态去对待工作。很多小</tspan><tspan x="2211" dy="15.7">事也比较马虎，做旅游日常的工作比较粗心，</tspan><tspan x="2211" dy="15.7">有时候会遗漏。后来每次就随身带纸笔或</tspan><tspan x="2211" dy="15.7">手机备忘录。后来类似事件也就少了。</tspan></text></g>
<g id="Q3"><rect class="by" x="2205" y="1717" width="255" height="135.6" rx="5"/><text class="t ty" x="2211" y="1734"><tspan x="2211">3、在带团过程中，会遇到各种各样的问题，</tspan><tspan x="2211" dy="15.7">面对游客的疑问，时常感觉专业知识不足。</tspan><tspan x="2211" dy="15.7">在游客的心中，我们导游就是他们的百科全书</tspan><tspan x="2211" dy="15.7">。在接下来的日子里，我会在工作之余一如既</tspan><tspan x="2211" dy="15.7">往的丰富自身的知识储备，拓宽视野，做一名</tspan><tspan x="2211" dy="15.7">合格优秀的园区讲解员。让游客在旅途中收</tspan><tspan x="2211" dy="15.7">获知识、收获快乐，满意而归。助力园区发展</tspan><tspan x="2211" dy="15.7">，成为我们景区良好的宣传员。</tspan></text></g>
<g id="Y3"><rect class="by" x="1806" y="1958.5" width="146" height="27" rx="5"/><text class="t ty" x="1812" y="1976.5">三、对于工作的几点建议</text></g>
<g id="S1"><rect class="by" x="1976" y="1878" width="254" height="41.4" rx="5"/><text class="t ty" x="1982" y="1895"><tspan x="1982">1、希望公司建立完善的培训系统，加强旅游</tspan><tspan x="1982" dy="15.7">从业者的服务意识以及服务技能系统的培训;</tspan></text></g>
<g id="S2"><rect class="by" x="1976" y="1951.3" width="254" height="41.4" rx="5"/><text class="t ty" x="1982" y="1968.3"><tspan x="1982">2、丰富旅游从业者的学习方式，不仅要引进</tspan><tspan x="1982" dy="15.7">来，也要走出去，向其他景区取长补短。</tspan></text></g>
<g id="S3"><rect class="by" x="1976" y="2018" width="254" height="57.1" rx="5"/><text class="t ty" x="1982" y="2035"><tspan x="1982">3、公司内部各部门一线人员定期的组织交流</tspan><tspan x="1982" dy="15.7">会，能更好的发现工作中的问题，有利于部门</tspan><tspan x="1982" dy="15.7">之间更好的协调工作。</tspan></text></g>
<g id="S3a"><rect class="by" x="2254" y="2025.85" width="255" height="41.4" rx="5"/><text class="t ty" x="2260" y="2042.85"><tspan x="2260">以上几点拙见，如有不足之处，请领导批评</tspan><tspan x="2260" dy="15.7">指正。</tspan></text></g>
<g id="Y4"><rect class="by" x="1806" y="2191" width="86" height="27" rx="5"/><text class="t ty" x="1812" y="2209">四、展望未来</text></g>
<g id="T1"><rect class="by" x="1915" y="2101" width="254" height="72.8" rx="5"/><text class="t ty" x="1921" y="2118"><tspan x="1921">旅游业是朝阳产业，随着人们经济水平的提高</tspan><tspan x="1921" dy="15.7">、出游_的不断增加、国家政策的大力支持、</tspan><tspan x="1921" dy="15.7">未来旅游业将会具有远大前景，我对自己现在</tspan><tspan x="1921" dy="15.7">所从事的事业深信不疑。</tspan></text></g>
<g id="T2"><rect class="by" x="1915" y="2203" width="254" height="135.6" rx="5"/><text class="t ty" x="1921" y="2220"><tspan x="1921">未来景区发展需要高水平的专业人才以及复合</tspan><tspan x="1921" dy="15.7">型人才。景区的特殊性，对我们提出了更高的</tspan><tspan x="1921" dy="15.7">要求。不仅要懂旅游，还得懂园林、传媒、互</tspan><tspan x="1921" dy="15.7">联网等其他关联度高的行业。作为旅游从业人</tspan><tspan x="1921" dy="15.7">员，在今后的工作中，我会严格要求自己：不</tspan><tspan x="1921" dy="15.7">断提升服务水平、专业技能。在这样的大环境</tspan><tspan x="1921" dy="15.7">下，不断学习。去适应未来旅游业的对旅游从</tspan><tspan x="1921" dy="15.7">业者的高要求。</tspan></text></g>

<g id="RA"><rect class="br" x="1687" y="2693" width="254" height="88.5" rx="5"/><text class="t tr" x="1693" y="2710"><tspan x="1693">结合本市旅游行业实际，积极组织涉旅企业学</tspan><tspan x="1693" dy="15.7">习《实施细则》，认真落实省政府和省旅游局</tspan><tspan x="1693" dy="15.7">标准化建设的各项工作安排部署，全市旅游行</tspan><tspan x="1693" dy="15.7">业正逐步走向程序化、制度化、标准化。现将</tspan><tspan x="1693" dy="15.7">我市开展旅游标准化工作总结如下：</tspan></text></g>
<g id="RA1"><rect class="br" x="1965" y="2445" width="166" height="27" rx="5"/><text class="t tr" x="1971" y="2463">1.加强领导，明确工作责任。</text></g>
<g id="RA1b"><rect class="br" x="2156" y="2367.15" width="255" height="182.7" rx="5"/><text class="t tr" x="2162" y="2384.15"><tspan x="2162">成立组织领导机构。为切实做好旅游标准化建</tspan><tspan x="2162" dy="15.7">设工作，局领导高度重视，立即向市政府分管副</tspan><tspan x="2162" dy="15.7">市长专项汇报此项工作，20xx年10月29日市</tspan><tspan x="2162" dy="15.7">政府办公室印发了《市人民政府办公室关于印</tspan><tspan x="2162" dy="15.7">发开展旅游标准化试点工作实施方案的通知》</tspan><tspan x="2162" dy="15.7">（泸市府办函224号）文件；成立了以市政府</tspan><tspan x="2162" dy="15.7">分管副市长担任组长，一名副秘书长、旅游局</tspan><tspan x="2162" dy="15.7">和质监局局长任副组长，13个市级相关部门</tspan><tspan x="2162" dy="15.7">作为成员单位的市旅游标准化试点协调工作小</tspan><tspan x="2162" dy="15.7">组，办公室设在市旅游局，具体组织实施全市</tspan><tspan x="2162" dy="15.7">旅游标准化示范试点工作。</tspan></text></g>
<g id="RA2"><rect class="br" x="1965" y="2764" width="215" height="27" rx="5"/><text class="t tr" x="1971" y="2782">2.明确工作任务，积极开展试点工作。</text></g>
<g id="RA2b"><rect class="br" x="2205" y="2576.25" width="255" height="402.5" rx="5"/><text class="t tr" x="2211" y="2593.25"><tspan x="2211">为推动我市旅游工作的规范化、标准化，</tspan><tspan x="2211" dy="15.7">我局根据《省人民政府办公厅关于印发开展旅</tspan><tspan x="2211" dy="15.7">游标准化试点创建旅游标准化示范省工作方案</tspan><tspan x="2211" dy="15.7">的通知》制定了《市开展旅游标准化试点工作</tspan><tspan x="2211" dy="15.7">实施方案》，明确了各项工作任务，到2</tspan><tspan x="2211" dy="15.7">0xx年，全市要基本形成"政府主导、部门配</tspan><tspan x="2211" dy="15.7">合、上下联动、多元参与"的工作机制，在省</tspan><tspan x="2211" dy="15.7">级旅游标准化试点体系基础上，培育标准</tspan><tspan x="2211" dy="15.7">化示范企业4个；编制企业标准4部；培</tspan><tspan x="2211" dy="15.7">养一支旅游标准化人才队伍，试点期间培</tspan><tspan x="2211" dy="15.7">训2400人次；逐步形成较完善的标准化</tspan><tspan x="2211" dy="15.7">产品体系，新增5家A级旅游景区、6家星级、</tspan><tspan x="2211" dy="15.7">1家绿色旅游饭店、4家等级旅行社、1家</tspan><tspan x="2211" dy="15.7">旅游汽车运输公司、10家特色旅游商品购物</tspan><tspan x="2211" dy="15.7">点、15家农家乐/乡村酒店、2个乡村旅游示</tspan><tspan x="2211" dy="15.7">范乡（镇）、7个乡村旅游示范村的创建工作</tspan><tspan x="2211" dy="15.7">。认真组织和动员全市各区县旅游局和企</tspan><tspan x="2211" dy="15.7">业参与"标准化试点单位"的申报。20xx年3</tspan><tspan x="2211" dy="15.7">月17日，我市召开了全市旅游标准化试点工</tspan><tspan x="2211" dy="15.7">作会议，四以上宾馆、3A级以上旅游景区、</tspan><tspan x="2211" dy="15.7">一级旅行社共计11家涉旅企业参加了会</tspan><tspan x="2211" dy="15.7">议，市质监局标准化科科长到会并对如何</tspan><tspan x="2211" dy="15.7">参加旅游标准化试点工作作了详细的讲解，</tspan><tspan x="2211" dy="15.7">旅游局副局长吴晓对我市旅游行业标准化工</tspan><tspan x="2211" dy="15.7">作了全面安排部署。</tspan></text></g>
<g id="RA3"><rect class="br" x="1965" y="3006" width="106" height="27" rx="5"/><text class="t tr" x="1971" y="3024">3.具体工作措施。</text></g>
<g id="RB"><rect class="br" x="1687" y="3454" width="254" height="41.4" rx="5"/><text class="t tr" x="1693" y="3471"><tspan x="1693">为了确保旅游标准化工作的顺利开展，我们主</tspan><tspan x="1693" dy="15.7">要采取了以下几个措施：</tspan></text></g>
<g id="RB1"><rect class="br" x="1965" y="3059" width="255" height="57.1" rx="5"/><text class="t tr" x="1971" y="3076"><tspan x="1971">一是市政府下发了《市创建旅游标准化示范市</tspan><tspan x="1971" dy="15.7">实施方案》，确定11家涉旅企业为试点单位</tspan><tspan x="1971" dy="15.7">，用行政的手段来确保标准化工作的落实。</tspan></text></g>
<g id="RB2"><rect class="br" x="1965" y="3143" width="255" height="57.1" rx="5"/><text class="t tr" x="1971" y="3160"><tspan x="1971">二是积极联系市质监局，认真讨论旅游标准化</tspan><tspan x="1971" dy="15.7">工作的有关程序和方法，以便旅游标准化工作</tspan><tspan x="1971" dy="15.7">的组织实施。</tspan></text></g>
<g id="RB3"><rect class="br" x="1965" y="3228" width="255" height="57.1" rx="5"/><text class="t tr" x="1971" y="3245"><tspan x="1971">三是组织全市旅游标准化骨干力量参加省旅游</tspan><tspan x="1971" dy="15.7">局组织的标准化工作培训会，以便旅游标准化</tspan><tspan x="1971" dy="15.7">工作的推进。</tspan></text></g>
<g id="RB4"><rect class="br" x="1965" y="3314" width="255" height="88.5" rx="5"/><text class="t tr" x="1971" y="3331"><tspan x="1971">四是向市旅游质监局订购《服务业常用标准汇</tspan><tspan x="1971" dy="15.7">编》、《服务业组织标准化工作指南》、《旅</tspan><tspan x="1971" dy="15.7">游标准与法规汇编》等有关书籍并组织全局学</tspan><tspan x="1971" dy="15.7">习标准化基础知识，以便旅游标准化工作的规</tspan><tspan x="1971" dy="15.7">范开展。</tspan></text></g>
<g id="RB5"><rect class="br" x="1965" y="3430.45" width="255" height="88.5" rx="5"/><text class="t tr" x="1971" y="3447.45"><tspan x="1971">五是在《日报》等媒体上报道了旅游标准化工</tspan><tspan x="1971" dy="15.7">作有关情况，在旅游政务网上对旅游标准化工</tspan><tspan x="1971" dy="15.7">作加大宣传力度。六是建立旅游标准化文档库</tspan><tspan x="1971" dy="15.7">，收集、归纳标准化工作的所有内容，包括文</tspan><tspan x="1971" dy="15.7">字、图片资料，以便查阅。</tspan></text></g>
<g id="RB6"><rect class="br" x="1965" y="3641" width="166" height="27" rx="5"/><text class="t tr" x="1971" y="3659">4.旅游标准化工作取得实效。</text></g>
<g id="RB6b"><rect class="br" x="2156" y="3547.45" width="255" height="214.1" rx="5"/><text class="t tr" x="2162" y="3564.45"><tspan x="2162">通过创建工作，全行业从"要我贯彻标准"转变</tspan><tspan x="2162" dy="15.7">为"我要贯彻标准"，形成"让旅游标准成为旅</tspan><tspan x="2162" dy="15.7">游人的行为习惯"的认识。一年来，我市新增</tspan><tspan x="2162" dy="15.7">乡村旅游示范乡镇2个、示范村7个、饭店2家</tspan><tspan x="2162" dy="15.7">、农家乐/乡村酒店5家、A级景区2个、专业</tspan><tspan x="2162" dy="15.7">旅游汽车运输公司1个；新评选出特色旅游商</tspan><tspan x="2162" dy="15.7">品27种、A级特色旅游购物点2处、旅游商品</tspan><tspan x="2162" dy="15.7">生产企业43家；黄荆、天仙硐、方山景区正</tspan><tspan x="2162" dy="15.7">积极推进4A级景区建设工作、洞窝景区创3A</tspan><tspan x="2162" dy="15.7">级景区工作稳步推进；按照五星饭店标准建设</tspan><tspan x="2162" dy="15.7">的合江九阳宾馆主体已完工，现已进入装修阶</tspan><tspan x="2162" dy="15.7">段，并得到省星评专家两次现场指导，还有3</tspan><tspan x="2162" dy="15.7">家按五饭店标准规划的饭店建设进展顺利。</tspan></text></g>
<g id="RB7"><rect class="br" x="1965" y="3851" width="118" height="27" rx="5"/><text class="t tr" x="1971" y="3869">5.下一步工作打算。</text></g>
<g id="RB7b"><rect class="br" x="2107" y="3788.85" width="254" height="151.3" rx="5"/><text class="t tr" x="2113" y="3805.85"><tspan x="2113">我们将围绕市政府提出的"旅游产业发展三年</tspan><tspan x="2113" dy="15.7">提升计划"，狠抓旅游业国家、行业及地方标</tspan><tspan x="2113" dy="15.7">准的贯彻实施，通过旅游标准化建设，对旅游</tspan><tspan x="2113" dy="15.7">工作、旅游产品、旅游基础术语等进行约束和</tspan><tspan x="2113" dy="15.7">规范；宣传系列旅游标准，扩大标准的社会认</tspan><tspan x="2113" dy="15.7">知度和影响面，实施系列旅游标准，达到进一</tspan><tspan x="2113" dy="15.7">步提高旅游产品质量，培育旅游产业品牌，提</tspan><tspan x="2113" dy="15.7">升旅游服务水平和旅游产业核心竞争力的目的</tspan><tspan x="2113" dy="15.7">，为全市旅游业"三年提升计划"夯实基础。</tspan></text></g>

<g id="watermarks">
<text class="wm" text-anchor="middle" transform="translate(630 560) rotate(-30)">树图 shutu.cn</text>
<text class="wm" text-anchor="middle" transform="translate(630 1545) rotate(-30)">树图 shutu.cn</text>
<text class="wm" text-anchor="middle" transform="translate(630 2520) rotate(-30)">树图 shutu.cn</text>
<text class="wm" text-anchor="middle" transform="translate(630 3535) rotate(-30)">树图 shutu.cn</text>
<text class="wm" text-anchor="middle" transform="translate(630 4500) rotate(-30)">树图 shutu.cn</text>
<text class="wm" text-anchor="middle" transform="translate(1924 502) rotate(-30)">树图 shutu.cn</text>
<text class="wm" text-anchor="middle" transform="translate(1924 1513) rotate(-30)">树图 shutu.cn</text>
<text class="wm" text-anchor="middle" transform="translate(1924 2515) rotate(-30)">树图 shutu.cn</text>
<text class="wm" text-anchor="middle" transform="translate(1924 3536) rotate(-30)">树图 shutu.cn</text>
<text class="wm" text-anchor="middle" transform="translate(1924 4500) rotate(-30)">树图 shutu.cn</text>
</g>
</g>
</svg>
